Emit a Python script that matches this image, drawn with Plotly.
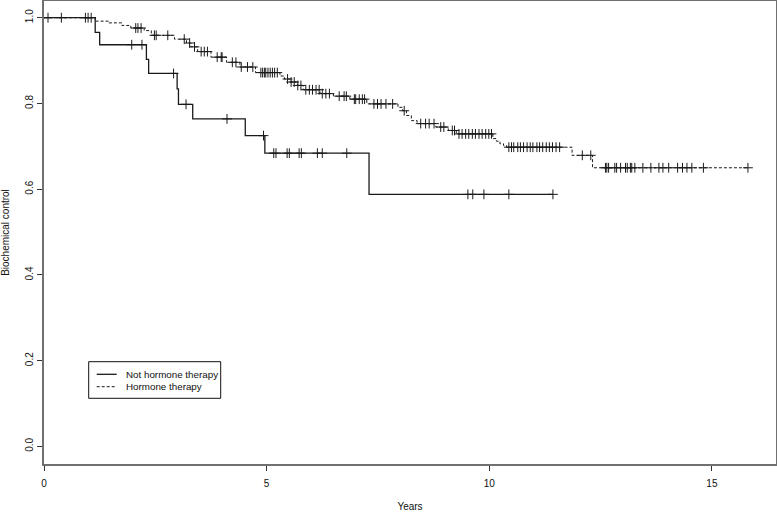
import plotly.graph_objects as go

# ---- data ----
no_ht_times = [0, 1.15, 1.25, 2.30, 2.35, 2.99, 3.02, 3.34, 4.52, 4.96, 7.30, 11.43]
no_ht_surv = [1.0, 0.966, 0.937, 0.903, 0.870, 0.834, 0.798, 0.764, 0.725, 0.684, 0.588, 0.588]
no_ht_censor = [1.97, 2.20, 2.91, 3.19, 4.11, 4.93, 5.16, 5.21, 5.46, 5.51, 5.73, 5.78,
                6.14, 6.25, 6.80, 9.52, 9.63, 9.88, 10.44, 11.43]

ht_times = [0, 1.15, 1.45, 1.75, 1.95, 2.25, 2.41, 2.93, 3.20, 3.30, 3.45, 3.75, 4.10, 4.40,
            4.75, 5.30, 5.40, 5.55, 5.70, 5.82, 6.20, 6.50, 6.87, 7.25, 7.95, 8.05, 8.14,
            8.25, 8.38, 8.80, 9.08, 9.26, 10.08, 10.16, 10.24, 10.32, 10.39, 11.86, 12.32, 15.81]
ht_surv = [1.0, 0.992, 0.988, 0.982, 0.976, 0.970, 0.959, 0.950, 0.941, 0.932, 0.921, 0.908,
           0.896, 0.885, 0.872, 0.864, 0.857, 0.850, 0.842, 0.832, 0.823, 0.817, 0.810, 0.799,
           0.791, 0.783, 0.772, 0.760, 0.753, 0.745, 0.737, 0.729, 0.718, 0.712, 0.706, 0.702,
           0.698, 0.679, 0.650, 0.650]
ht_censor = [0.09, 0.39, 0.93, 0.99, 1.06,
             2.06, 2.11, 2.18, 2.48, 2.52, 2.78,
             3.15, 3.27, 3.38, 3.53, 3.60, 3.67, 3.89, 3.98, 4.00,
             4.23, 4.31, 4.43, 4.57, 4.69, 4.87, 4.91, 4.95, 4.98, 5.03, 5.08, 5.13, 5.18, 5.24,
             5.47, 5.55, 5.62, 5.70, 5.77, 5.88, 5.96, 6.03, 6.11, 6.18,
             6.25, 6.33, 6.41, 6.63, 6.74, 6.79, 6.97, 7.00, 7.08, 7.15, 7.20,
             7.41, 7.49, 7.57, 7.68, 7.83, 8.09, 8.46, 8.57, 8.65, 8.76, 8.91, 8.98,
             9.17, 9.22, 9.32, 9.39, 9.47, 9.54, 9.62, 9.69, 9.77, 9.84, 9.92, 9.99, 10.05,
             10.44, 10.50, 10.55, 10.64, 10.70, 10.77, 10.85, 10.92, 10.98, 11.07, 11.13,
             11.20, 11.28, 11.35, 11.42, 11.50, 11.58,
             12.09, 12.28,
             12.61, 12.64, 12.68, 12.82, 12.86, 12.95, 13.06, 13.10, 13.17, 13.20, 13.27,
             13.45, 13.63, 13.81, 13.90, 14.03, 14.23, 14.34, 14.44, 14.55, 14.81, 15.81]

series_names = ["Not hormone therapy", "Hormone therapy"]
x_ticks = [0, 5, 10, 15]
y_ticks = [0.0, 0.2, 0.4, 0.6, 0.8, 1.0]
y_tick_labels = ["0.0", "0.2", "0.4", "0.6", "0.8", "1.0"]
x_title = "Years"
y_title = "Biochemical control"


def step_value(times, surv, t):
    v = surv[0]
    for tt, s in zip(times, surv):
        if tt <= t:
            v = s
        else:
            break
    return v


FONT = "Liberation Sans, Arial, sans-serif"
LINE = "#1a1a1a"
MARK = dict(symbol="cross-thin", size=7, line=dict(width=1, color=LINE))

fig = go.Figure()

# Not hormone therapy (solid)
fig.add_trace(go.Scatter(x=no_ht_times, y=no_ht_surv, mode="lines", line_shape="hv",
                         line=dict(color=LINE, width=1.3), name=series_names[0],
                         showlegend=False))
fig.add_trace(go.Scatter(x=no_ht_censor,
                         y=[step_value(no_ht_times, no_ht_surv, t) for t in no_ht_censor],
                         mode="markers", marker=MARK, showlegend=False, hoverinfo="skip"))

# Hormone therapy (dashed)
fig.add_trace(go.Scatter(x=ht_times, y=ht_surv, mode="lines", line_shape="hv",
                         line=dict(color=LINE, width=1, dash="3px,2px"), name=series_names[1],
                         showlegend=False))
fig.add_trace(go.Scatter(x=ht_censor,
                         y=[step_value(ht_times, ht_surv, t) for t in ht_censor],
                         mode="markers", marker=MARK, showlegend=False, hoverinfo="skip"))

# ---- layout ----
L, R, T, B = 44, 1, 1, 48
W, H = 777, 512
pw, ph = W - L - R, H - T - B


def px_x(p):
    return (p - L) / pw


def px_y(p):
    return (H - B - p) / ph


shapes = [
    dict(type="rect", xref="paper", yref="paper", x0=px_x(88.7), x1=px_x(220.7),
         y0=px_y(398.3), y1=px_y(361.7), line=dict(color="#111", width=1),
         fillcolor="white", layer="above"),
    dict(type="line", xref="paper", yref="paper", x0=px_x(96.7), x1=px_x(116.7),
         y0=px_y(374.3), y1=px_y(374.3), line=dict(color=LINE, width=1.3)),
    dict(type="line", xref="paper", yref="paper", x0=px_x(96.7), x1=px_x(116.7),
         y0=px_y(386.7), y1=px_y(386.7), line=dict(color=LINE, width=1, dash="3px,2px")),
]
annotations = [
    dict(text=series_names[0], xref="paper", yref="paper", x=px_x(123.5), y=px_y(374.3),
         xanchor="left", yanchor="middle", showarrow=False,
         font=dict(family=FONT, size=9.8, color="#111")),
    dict(text=series_names[1], xref="paper", yref="paper", x=px_x(123.5), y=px_y(386.7),
         xanchor="left", yanchor="middle", showarrow=False,
         font=dict(family=FONT, size=9.8, color="#111")),
]

fig.update_layout(
    width=W, height=H,
    margin=dict(l=L, r=R, t=T, b=B, pad=0),
    paper_bgcolor="white", plot_bgcolor="white",
    font=dict(family=FONT, size=10, color="#111"),
    shapes=shapes, annotations=annotations,
    showlegend=False,
    xaxis=dict(range=[0, 16.44], tickvals=x_ticks, ticktext=[str(v) for v in x_ticks],
               showgrid=False, zeroline=False, showline=True, mirror=True,
               linecolor="#707070", linewidth=1.5,
               ticks="outside", ticklen=5, tickcolor="#333", tickwidth=1,
               ticklabelstandoff=4,
               title=dict(text=x_title, standoff=19, font=dict(size=10)),
               automargin=False),
    yaxis=dict(range=[-0.041, 1.039], tickvals=y_ticks, ticktext=y_tick_labels,
               showgrid=False, zeroline=False, showline=True, mirror=True,
               linecolor="#707070", linewidth=1.5,
               ticks="outside", ticklen=5, tickcolor="#333", tickwidth=1,
               tickangle=-90, ticklabelstandoff=0,
               title=dict(text=y_title, standoff=13, font=dict(size=10)),
               automargin=False),
)

fig.write_html("out.html", config={"displayModeBar": False},
               post_script="document.body.style.margin='0px';")
